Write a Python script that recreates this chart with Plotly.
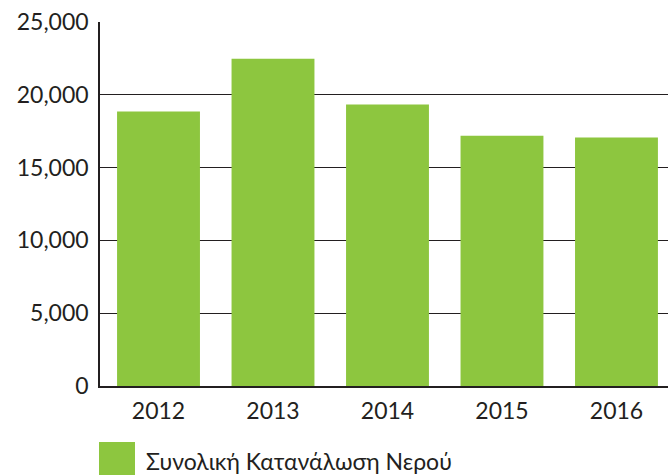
import plotly.graph_objects as go

years = ["2012", "2013", "2014", "2015", "2016"]
consumption = [18850, 22480, 19330, 17190, 17060]
series_name = "Συνολική Κατανάλωση Νερού"
y_ticks = [0, 5000, 10000, 15000, 20000, 25000]
y_tick_labels = ["0", "5,000", "10,000", "15,000", "20,000", "25,000"]

GREEN = "#8dc63f"
TEXT = "#231f20"
FONT = "Lato"

W, H = 668, 475
L, R, T, B = 100, 0, 22, 89
PW, PH = W - L - R, H - T - B

fig = go.Figure()
fig.add_trace(go.Bar(
    x=list(range(len(years))), y=consumption, name=series_name,
    marker=dict(color=GREEN, line=dict(width=0)),
    showlegend=False, hoverinfo="skip",
))

fig.update_layout(
    width=W, height=H,
    margin=dict(l=L, r=R, t=T, b=B, autoexpand=False),
    paper_bgcolor="white", plot_bgcolor="white",
    bargap=0.276,
    font=dict(family=FONT, size=23, color=TEXT),
    xaxis=dict(
        tickmode="array", tickvals=list(range(len(years))), ticktext=years,
        range=[-0.511, 4.45], showgrid=False, zeroline=False,
        showline=True, linecolor="#231f20", linewidth=1.5,
        ticks="", ticklen=0, ticklabelstandoff=4,
        tickfont=dict(family=FONT, size=23, color=TEXT),
    ),
    yaxis=dict(
        range=[0, 25000], tickmode="array", tickvals=y_ticks, ticktext=y_tick_labels,
        showgrid=True, gridcolor="#231f20", gridwidth=1.3,
        zeroline=False, showline=True, linecolor="#231f20", linewidth=1.5,
        ticks="", ticklen=0, ticklabelstandoff=5,
        tickfont=dict(family=FONT, size=23, color=TEXT),
    ),
)

plot_bottom = T + PH

def py(pix):
    return (plot_bottom - pix) / PH

def px(pix):
    return (pix - L) / PW

# Legend (drawn manually to match the large swatch)
fig.add_shape(type="rect", xref="paper", yref="paper",
              x0=px(99), x1=px(135), y0=py(442), y1=py(476),
              fillcolor=GREEN, line=dict(width=0), layer="above")
fig.add_annotation(xref="paper", yref="paper", x=px(144), y=py(461),
                   text=series_name, showarrow=False, xanchor="left", yanchor="middle",
                   font=dict(family=FONT, size=23, color=TEXT))

fig.write_html("out.html", config={"displayModeBar": False},
               post_script="document.body.style.margin='0';document.body.style.overflow='hidden';")
